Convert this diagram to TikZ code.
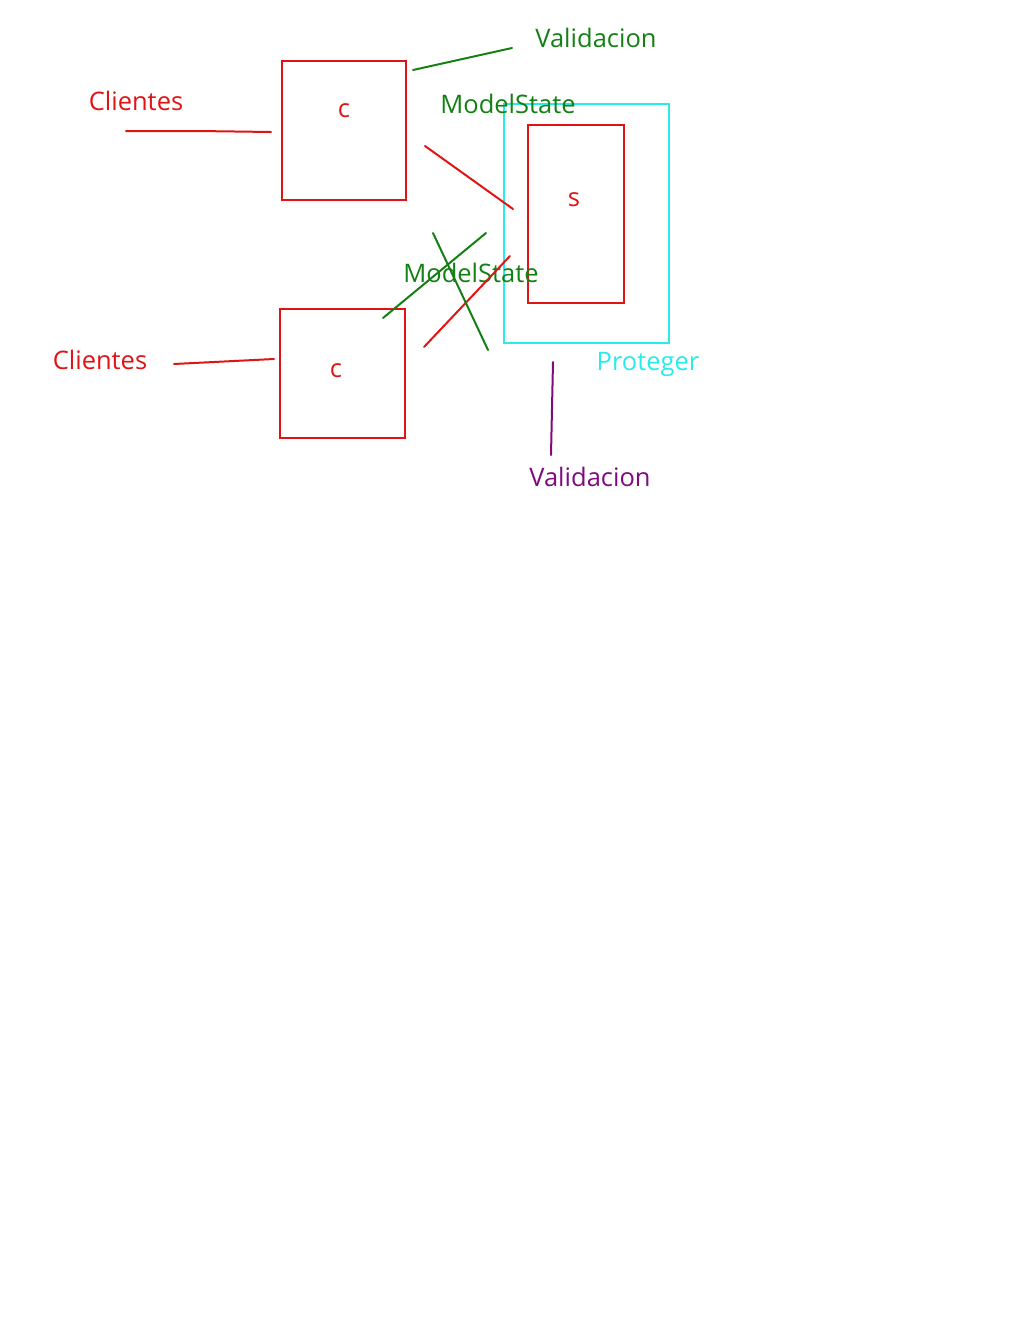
\documentclass[tikz,border=0pt]{standalone}
\usepackage{fontspec}
\setmainfont{Open Sans}
\usetikzlibrary{positioning}

\definecolor{rojo}{RGB}{225,20,20}
\definecolor{verde}{RGB}{20,128,20}
\definecolor{celeste}{RGB}{40,235,235}
\definecolor{morado}{RGB}{128,10,128}

\begin{document}
\begin{tikzpicture}[x=1pt, y=-1pt,
          caja/.style={draw=rojo, line width=2pt, inner sep=0pt},
          trazo/.style={line width=2pt, line cap=round},
          texto/.style={font=\fontsize{25.5}{29}\selectfont, inner sep=0pt}
        ]
          \useasboundingbox (0,0) rectangle (1024,1325);

          % Cajas
          \node[caja, minimum width=124pt, minimum height=139pt] (c1) at (344,130.5) {};
          \node[caja, minimum width=125pt, minimum height=129pt] (c2) at (342.5,373.5) {};
          \node[draw=celeste, line width=2pt, inner sep=0pt, minimum width=165pt, minimum height=239pt] (prot) at (586.5,223.5) {};
          \node[caja, minimum width=96pt, minimum height=178pt] (s) at (576,214) {};

          % Letras
          \node[texto, rojo] (lc1) at (344,111) {c};
          \node[texto, rojo] (lc2) at (336,371) {c};
          \node[texto, rojo] (ls) at (574,200) {s};

          % Textos
          \node[texto, rojo] (cli1) at (136,101) {Clientes};
          \node[texto, rojo] (cli2) at (100,360) {Clientes};
          \node[texto, verde] (val1) at (596,38) {Validacion};
          \node[texto, verde] (ms1) at (508,104) {ModelState};
          \node[texto, verde] (ms2) at (471,273) {ModelState};
          \node[texto, celeste] (proteger) at (648,364) {Proteger};
          \node[texto, morado] (val2) at (590,477) {Validacion};

          % Puntos de los trazos
          \coordinate (a1) at (126,131);
          \coordinate (a2) at (198,131);
          \coordinate (a3) at (271,132);
          \coordinate (b1) at (174,364);
          \coordinate (b2) at (274,359);
          \coordinate (v1) at (413,70);
          \coordinate (v2) at (512,48);
          \coordinate (r1) at (425,146);
          \coordinate (r2) at (513,209);
          \coordinate (r3) at (424,347);
          \coordinate (r4) at (510,256);
          \coordinate (g1) at (383,318);
          \coordinate (g2) at (486,233);
          \coordinate (g3) at (433,233);
          \coordinate (g4) at (488,350);
          \coordinate (p1) at (553,362);
          \coordinate (p2) at (551,455);

          % Trazos
          \draw[trazo, rojo] (a1) -- (a2) -- (a3);
          \draw[trazo, rojo] (b1) -- (b2);
          \draw[trazo, verde] (v1) -- (v2);
          \draw[trazo, rojo] (r1) -- (r2);
          \draw[trazo, rojo] (r3) -- (r4);
          \draw[trazo, verde] (g1) -- (g2);
          \draw[trazo, verde] (g3) -- (g4);
          \draw[trazo, morado] (p1) -- (p2);
        \end{tikzpicture}
\end{document}
